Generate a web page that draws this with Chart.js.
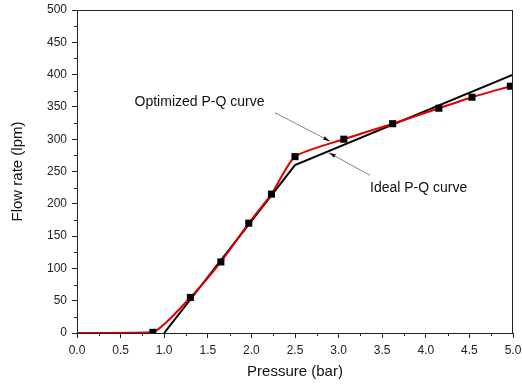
<!DOCTYPE html>
<html>
<head>
<meta charset="utf-8">
<script src="https://cdn.jsdelivr.net/npm/chart.js@4/dist/chart.umd.min.js"></script>
<style>
  html, body { margin: 0; padding: 0; background: #fff; }
  #wrap { width: 522px; height: 385px; }
</style>
</head>
<body>
<div id="wrap"><canvas id="grafica" width="522" height="385"></canvas></div>
<script>
// datos
const presionOpt = [0, 0.87, 1.30, 1.65, 1.97, 2.23, 2.50, 3.06, 3.62, 4.15, 4.53, 4.97];
const caudalOpt  = [0, 1, 55, 110, 170, 215, 273, 300, 324, 348, 365, 382];
const presionIdeal = [1.0, 2.5, 5.0];
const caudalIdeal  = [0, 260, 400];
const etiquetasX = ["0.0", "0.5", "1.0", "1.5", "2.0", "2.5", "3.0", "3.5", "4.0", "4.5", "5.0"];
const etiquetasY = ["0", "50", "100", "150", "200", "250", "300", "350", "400", "450", "500"];

// notas con flecha (texto, inicio de flecha, punta)
const notas = [
  { text: "Optimized P-Q curve", tx: 0.66, ty: 357, from: [2.27, 341], to: [2.90, 297] },
  { text: "Ideal P-Q curve", tx: 3.36, ty: 225, from: [3.36, 244], to: [2.89, 279] }
];

const fuente = "'Liberation Sans', Arial, sans-serif";
const $grafica = document.querySelector("#grafica");

// marco, ticks menores y notas
const extras = {
  id: "extras",
  afterDatasetsDraw(chart) {
    const { ctx, chartArea: a, scales: { x, y } } = chart;
    ctx.save();
    ctx.strokeStyle = "#222";
    ctx.lineWidth = 1;
    ctx.strokeRect(a.left + 0.5, a.top + 0.5, a.right - a.left - 1, a.bottom - a.top);
    ctx.beginPath();
    for (let v = 0.25; v < 5; v += 0.5) {
      const px = Math.round(x.getPixelForValue(v)) + 0.5;
      ctx.moveTo(px, a.bottom); ctx.lineTo(px, a.bottom + 3);
    }
    for (let v = 25; v < 500; v += 50) {
      const py = Math.round(y.getPixelForValue(v)) + 0.5;
      ctx.moveTo(a.left, py); ctx.lineTo(a.left - 3, py);
    }
    ctx.stroke();

    ctx.font = "14px " + fuente;
    ctx.textBaseline = "middle";
    notas.forEach(n => {
      ctx.fillStyle = "#111";
      ctx.fillText(n.text, x.getPixelForValue(n.tx), y.getPixelForValue(n.ty));
      const x0 = x.getPixelForValue(n.from[0]), y0 = y.getPixelForValue(n.from[1]);
      const x1 = x.getPixelForValue(n.to[0]), y1 = y.getPixelForValue(n.to[1]);
      const ang = Math.atan2(y1 - y0, x1 - x0);
      ctx.strokeStyle = "#666";
      ctx.lineWidth = 0.8;
      ctx.beginPath();
      ctx.moveTo(x0, y0); ctx.lineTo(x1, y1);
      ctx.stroke();
      ctx.beginPath();
      ctx.moveTo(x1, y1);
      ctx.lineTo(x1 - 7 * Math.cos(ang - 0.28), y1 - 7 * Math.sin(ang - 0.28));
      ctx.lineTo(x1 - 7 * Math.cos(ang + 0.28), y1 - 7 * Math.sin(ang + 0.28));
      ctx.closePath();
      ctx.fill();
    });
    ctx.restore();
  }
};

new Chart($grafica, {
  type: "line",
  data: {
    datasets: [
      {
        label: "Ideal",
        data: presionIdeal.map((p, i) => ({ x: p, y: caudalIdeal[i] })),
        borderColor: "#000",
        borderWidth: 2,
        pointRadius: 0,
        tension: 0,
        order: 2
      },
      {
        label: "Optimized",
        data: presionOpt.map((p, i) => ({ x: p, y: caudalOpt[i] })),
        borderColor: "#e00000",
        borderWidth: 2,
        tension: 0.2,
        pointStyle: "rect",
        pointRadius: c => c.dataIndex === 0 ? 0 : 5,
        pointBackgroundColor: "#000",
        pointBorderColor: "#000",
        pointBorderWidth: 0,
        order: 1
      }
    ]
  },
  options: {
    responsive: false,
    animation: false,
    layout: { padding: { top: 10, right: 9, left: 5, bottom: 0 } },
    plugins: { legend: { display: false }, tooltip: { enabled: false } },
    scales: {
      x: {
        type: "linear",
        min: 0, max: 5,
        afterFit: s => { s.height = 52; s.paddingLeft = 0; s.paddingRight = 0; },
        afterBuildTicks: s => { s.ticks = etiquetasX.map(t => ({ value: parseFloat(t) })); },
        ticks: {
          callback: (v, i) => etiquetasX[i],
          color: "#222",
          font: { family: fuente, size: 12 },
          padding: 5,
          maxRotation: 0
        },
        grid: { drawOnChartArea: false, tickLength: 5, tickColor: "#222" },
        border: { color: "#222" },
        title: { display: true, text: "Pressure (bar)", color: "#111", font: { family: fuente, size: 15 }, padding: { top: 4 } }
      },
      y: {
        type: "linear",
        min: 0, max: 500,
        afterFit: s => { s.width = 72; s.paddingTop = 0; s.paddingBottom = 0; },
        afterBuildTicks: s => { s.ticks = etiquetasY.map(t => ({ value: parseFloat(t) })); },
        ticks: {
          callback: (v, i) => etiquetasY[i],
          color: "#222",
          font: { family: fuente, size: 12 },
          padding: 5
        },
        grid: { drawOnChartArea: false, tickLength: 5, tickColor: "#222" },
        border: { color: "#222" },
        title: { display: true, text: "Flow rate (lpm)", color: "#111", font: { family: fuente, size: 15 }, padding: { bottom: 0 } }
      }
    }
  },
  plugins: [extras]
});
</script>
</body>
</html>
